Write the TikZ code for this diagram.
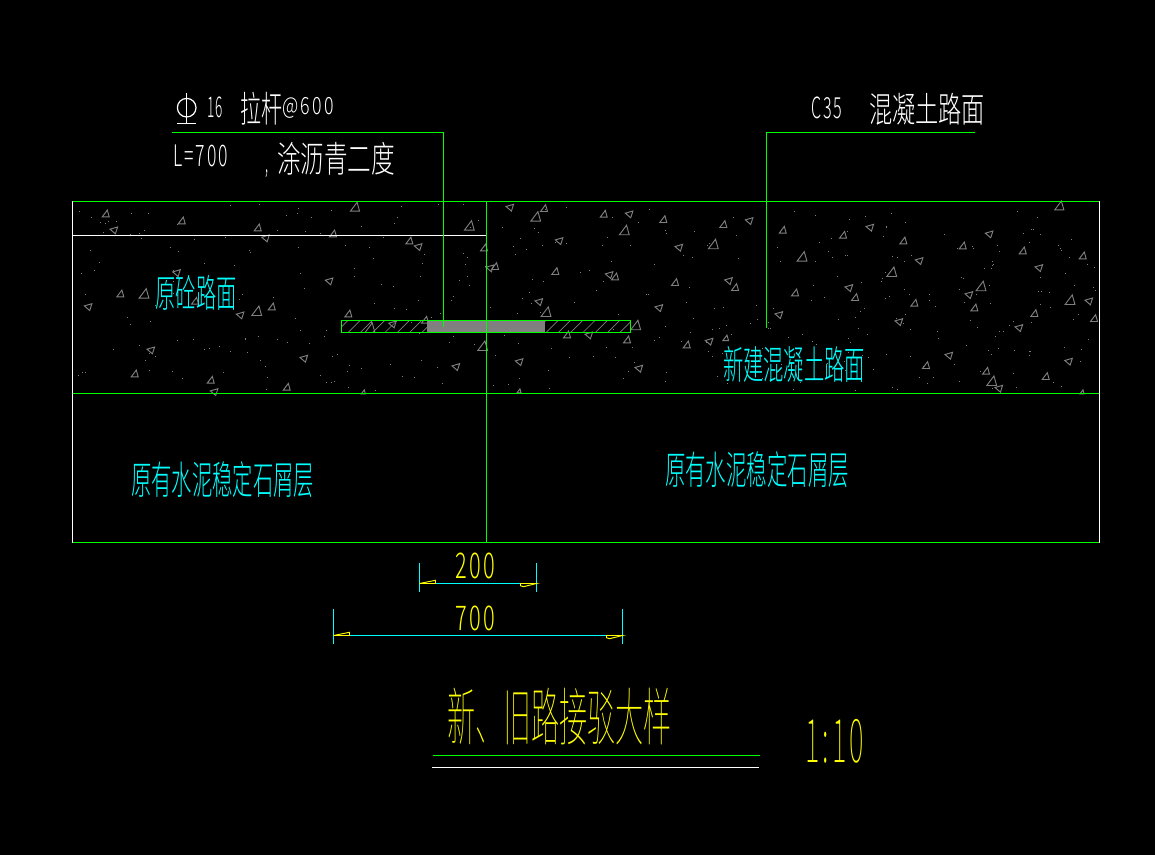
\documentclass[tikz,border=0pt]{standalone}
\usepackage{graphicx}
\usepackage{fontspec}
\newfontfamily\cjk{Noto Sans CJK SC Light}
\newfontfamily\cjkthin{Noto Sans CJK SC Thin}
\newfontfamily\numf[LetterSpace=12]{Noto Sans CJK SC Light}
\newfontfamily\numthin[LetterSpace=12]{Noto Sans CJK SC Thin}
\newlength{\pxu}
\setlength{\pxu}{0.75pt}
\definecolor{cadgreen}{HTML}{00FF00}
\definecolor{cadcyan}{HTML}{00FFFF}
\definecolor{cadyellow}{HTML}{FFFF00}
\definecolor{cadgrey}{HTML}{808080}
\definecolor{cadwhite}{HTML}{FFFFFF}
\tikzset{
  px/.style={line width=0.9pt},
  gline/.style={px,draw=cadgreen},
  wline/.style={px,draw=cadwhite},
  dimline/.style={px,draw=cadcyan},
  arrowhead/.style={line width=0.7pt,draw=cadyellow,fill=none},
  hatchline/.style={line width=0.5pt,draw=cadgrey},
  trimark/.style={line width=0.7pt,draw=cadgrey},
  lbl/.style={inner sep=0pt,outer sep=0pt,anchor=center}
}
% name, centre x, centre y, width, height, colour, text
\newcommand{\lblnode}[7]{\node[lbl,text=#6] (#1) at (#2,#3) {\resizebox*{#4\pxu}{#5\pxu}{\cjk #7}};}
\newcommand{\numnode}[7]{\node[lbl,text=#6] (#1) at (#2,#3) {\resizebox*{#4\pxu}{#5\pxu}{\numf #7\kern-0.012em}};}
\begin{document}
\begin{tikzpicture}[x=0.75pt,y=-0.75pt]
\fill[black] (0,0) rectangle (1155,855);
\useasboundingbox (0,0) rectangle (1155,855);
% speckle
\pgfmathsetseed{4711}
\foreach \i in {1,...,400}{
  \pgfmathsetmacro{\dx}{int(75+rnd*1022)}
  \pgfmathsetmacro{\dy}{int(204+rnd*187)}
  \fill[cadgrey] (\dx,\dy) rectangle ++(1,1);
}
% upright aggregate triangles
\foreach \x/\y/\s in {105.7/213.7/1,181.7/220.7/1,257.7/227.7/1,333/233.7/1,355/207/1.3,
 120.3/293.7/1,144/293.7/1.4,195/301/1,256.7/311/1.4,271.7/306.7/1,348.3/313.7/1,134.7/373.7/1,
 210.7/380/1,286.7/387/1,409.3/240.7/1,469.3/225.7/1.4,425/320/1,370/328/1.4,482.7/346/1.4,363.3/392/.6,
 535.7/216.7/1.4,544/208.3/1,603.7/214/1,663.3/219.3/1,624.3/230.3/1.4,723.3/224.3/1,782.7/230/1,
 713.3/244.3/1.4,484/247.7/1,495/266.3/1,555.3/271.3/1,615/276.7/1,675/282.3/1,735/287.3/1,795/292.7/1,
 546/312/1.4,635.7/325.3/1.4,567/334.7/1,627/339.7/1,686.7/344.7/1,725.7/338/.8,519/391/.6,
 843/235/1,903.3/240.7/1,962.7/245.7/1,1022.7/250.7/1,1082.7/255.7/1,802/256.7/1.4,1059.3/205.7/1.3,
 891.7/272/1.4,981/286.3/1.4,855/297.3/1,914.3/303/1,974.3/307.7/1,1070/300/1.4,1034.3/313.3/1,
 1094/318.3/1,926/365.3/1,986/371/1,1045.7/376.3/1,991.7/381/1.4,1082/392/.6}{
  \draw[trimark,shift={(\x,\y)},scale=\s] (-3.5,3.2)--(3.5,3.2)--(1.6,-3.6)--cycle;
}
% left-pointing aggregate triangles
\foreach \x/\y in {114/230,265.7/238,176.7/272.7,88.3/306.7,329.3/281,240.3/315,151/350,304/358.3,
 214.3/391.7,418.3/246.7,392.7/324,589/335,510/207.3,629.3/214,749.3/220.7,559.3/240.7,679/247.3,490/268,
 609.3/274.7,728.7/280.7,659/307.7,539/301.7,779/314.7,709.3/341.3,519.3/361.7,639/368.3,456/366.7,
 870/227.3,989.3/234,919.3/260.7,1039/267.7,849/287.7,969/294.7,1089/301,899/321.7,1019/327.7,949/355.3,
 1068.7/361.3,999/388.3}{
  \draw[trimark,shift={(\x,\y)}] (-4,-0.8)--(3.6,-3)--(1.4,3.8)--cycle;
}
% outline of the pavement
\coordinate (tl) at (72.5,201.5);
\coordinate (tr) at (1099.5,201.5);
\coordinate (ml) at (72.5,393.5);
\coordinate (mr) at (1099.5,393.5);
\coordinate (bl) at (72.5,542.5);
\coordinate (br) at (1099.5,542.5);
\coordinate (jt) at (486.5,201.5);
\coordinate (jb) at (486.5,542.5);
\coordinate (sl) at (72.5,235.5);
\coordinate (sr) at (486.5,235.5);
\draw[gline] (tl) -- (tr);
\draw[gline] (ml) -- (mr);
\draw[gline] (bl) -- (br);
\draw[wline] (tl) -- (bl);
\draw[wline] (tr) -- (br);
\draw[wline] (sl) -- (sr);
% tie bar
\fill[cadgrey] (427.3,320.7) rectangle (545,332.3);
\begin{scope}
  \clip (341.7,320.7) rectangle (427.3,332.3);
  \foreach \h in {336,348.3,...,440}{\draw[hatchline] (\h,332.3) -- ++(11.6,-11.6);}
\end{scope}
\begin{scope}
  \clip (545,320.7) rectangle (630.3,332.3);
  \foreach \h in {534,546.3,...,640}{\draw[hatchline] (\h,332.3) -- ++(11.6,-11.6);}
\end{scope}
\draw[gline] (341.7,320.7) rectangle (630.3,332.3);
\draw[gline] (jt) -- (jb);
% leaders
\coordinate (la) at (172,132.5);
\coordinate (lb) at (443.5,132.5);
\coordinate (lc) at (443.5,327);
\draw[gline] (la) -- (lb) -- (lc);
\coordinate (ra) at (975,132.5);
\coordinate (rb) at (766.5,132.5);
\coordinate (rc) at (766.5,327.7);
\draw[gline] (ra) -- (rb) -- (rc);
% rebar symbol
\draw[wline] (186.7,107.7) circle (9.3);
\draw[wline] (186.7,93) -- (186.7,124);
\draw[wline] (177.3,123.7) -- (196,123.7);
% white labels
\numnode{tsixteen}{215}{107.5}{16}{21}{cadwhite}{16}
\lblnode{tbar}{261}{108.5}{42}{33}{cadwhite}{拉杆}
\numnode{tsix}{308}{107.5}{51}{21}{cadwhite}{@600}
\numnode{tlen}{200.5}{156}{55}{22}{cadwhite}{L=700}
\lblnode{tcomma}{266.7}{174}{3}{8}{cadwhite}{,}
\lblnode{tasph}{336}{158.5}{118}{33}{cadwhite}{涂沥青二度}
\numnode{tcfive}{826.5}{108}{31}{22}{cadwhite}{C35}
\lblnode{tconc}{927}{109}{116}{32}{cadwhite}{混凝土路面}
% cyan labels
\lblnode{told}{196}{293}{81}{35}{cadcyan}{原砼路面}
\lblnode{tnew}{794}{365}{142}{36}{cadcyan}{新建混凝土路面}
\lblnode{tbasel}{222.5}{480}{183}{36}{cadcyan}{原有水泥稳定石屑层}
\lblnode{tbaser}{757}{470}{184}{36}{cadcyan}{原有水泥稳定石屑层}
% dimensions
\coordinate (da) at (419.5,583.5);
\coordinate (db) at (536.5,583.5);
\coordinate (dc) at (333.5,635.5);
\coordinate (dd) at (622.5,635.5);
\draw[dimline] (da) -- (db);
\draw[dimline] (dc) -- (dd);
\draw[dimline] (419.5,563) -- (419.5,592);
\draw[dimline] (536.5,563) -- (536.5,592);
\draw[dimline] (333.5,609) -- (333.5,644);
\draw[dimline] (622.5,609) -- (622.5,644);
\draw[arrowhead] (da) -- ++(16,-3.2) -- ++(0,3.2) -- cycle;
\draw[arrowhead] (db) -- ++(-16,0) -- ++(0,2.2) -- ++(3,1) -- cycle;
\draw[arrowhead] (dc) -- ++(16,-3.2) -- ++(0,3.2) -- cycle;
\draw[arrowhead] (dd) -- ++(-16,0) -- ++(0,2.2) -- ++(3,1) -- cycle;
\numnode{ttwo}{475}{566}{40}{26}{cadyellow}{200}
\numnode{tseven}{475}{618.5}{40}{25}{cadyellow}{700}
% title
\node[lbl,text=cadyellow] (ttitle) at (559.5,716.5) {\resizebox*{225\pxu}{57\pxu}{\cjkthin 新、旧路接驳大样}};
\node[lbl,text=cadyellow] (tscale) at (834.5,741) {\resizebox*{59\pxu}{44\pxu}{\numthin 1:10\kern-0.012em}};
\coordinate (ua) at (433,755.5);
\coordinate (ub) at (760,755.5);
\coordinate (uc) at (432,767.5);
\coordinate (ud) at (759,767.5);
\draw[gline] (ua) -- (ub);
\draw[wline] (uc) -- (ud);
\end{tikzpicture}
\end{document}
